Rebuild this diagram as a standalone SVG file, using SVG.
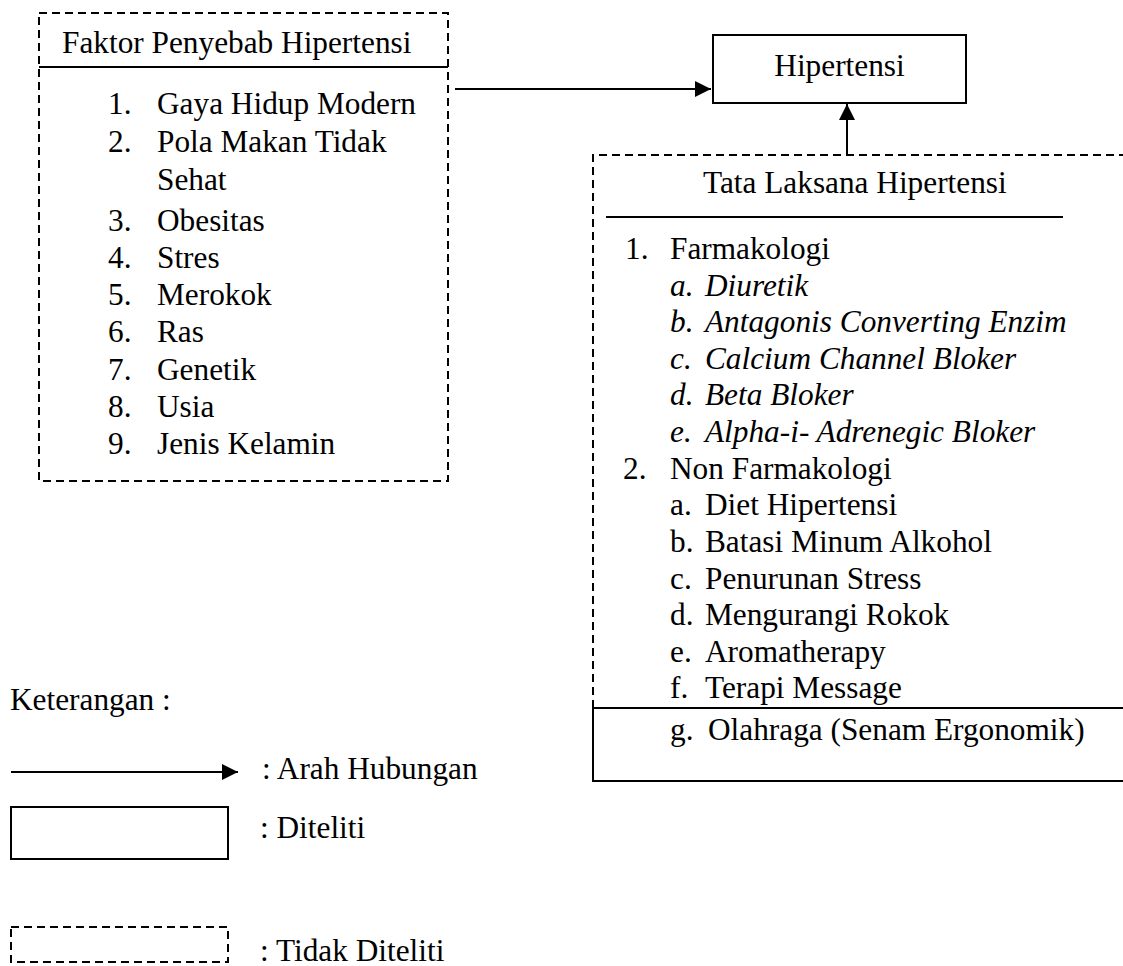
<svg xmlns="http://www.w3.org/2000/svg" width="1123" height="966" viewBox="0 0 1123 966">
<style>
text{font-family:"Liberation Serif","Times New Roman",serif;font-size:31.3px;fill:#000}
.it{font-style:italic}
.dash{fill:none;stroke:#000;stroke-width:2;stroke-dasharray:8 5}
.solid{fill:none;stroke:#000;stroke-width:2}
.ln{stroke:#000;stroke-width:2;fill:none}
</style>
<defs>
<marker id="ah" viewBox="0 0 16 16" refX="16" refY="8" markerWidth="16" markerHeight="16" markerUnits="userSpaceOnUse" orient="auto">
<path d="M0,0 L16,8 L0,16 Z" fill="#000"/>
</marker>
</defs>
<rect width="1123" height="966" fill="#fff"/>

<g id="faktor">
<rect class="dash" x="39" y="13" width="409" height="468"/>
<line class="ln" x1="39" y1="67" x2="448" y2="67"/>
<text x="62" y="53">Faktor Penyebab Hipertensi</text>
<text x="108" y="114">1.</text><text x="157" y="114">Gaya Hidup Modern</text>
<text x="108" y="152">2.</text><text x="157" y="152">Pola Makan Tidak</text>
<text x="157" y="190">Sehat</text>
<text x="108" y="231">3.</text><text x="157" y="231">Obesitas</text>
<text x="108" y="268">4.</text><text x="157" y="268">Stres</text>
<text x="108" y="305">5.</text><text x="157" y="305">Merokok</text>
<text x="108" y="342">6.</text><text x="157" y="342">Ras</text>
<text x="108" y="380">7.</text><text x="157" y="380">Genetik</text>
<text x="108" y="417">8.</text><text x="157" y="417">Usia</text>
<text x="108" y="454">9.</text><text x="157" y="454">Jenis Kelamin</text>
</g>

<g id="hipertensi">
<rect class="solid" x="713" y="35" width="253" height="68"/>
<text x="839.5" y="76" text-anchor="middle">Hipertensi</text>
</g>

<g id="tatalaksana">
<path class="dash" d="M593,708 L593,155 L1123,155"/>
<line class="ln" x1="606" y1="217" x2="1063" y2="217"/>
<text x="703" y="193">Tata Laksana Hipertensi</text>
<text x="625" y="259">1.</text><text x="670" y="259">Farmakologi</text>
<text class="it" x="670" y="296">a.</text><text class="it" x="705" y="296">Diuretik</text>
<text class="it" x="670" y="332">b.</text><text class="it" x="705" y="332">Antagonis Converting Enzim</text>
<text class="it" x="670" y="369">c.</text><text class="it" x="705" y="369">Calcium Channel Bloker</text>
<text class="it" x="670" y="405">d.</text><text class="it" x="705" y="405">Beta Bloker</text>
<text class="it" x="670" y="442">e.</text><text class="it" x="705" y="442">Alpha-i- Adrenegic Bloker</text>
<text x="623" y="479">2.</text><text x="670" y="479">Non Farmakologi</text>
<text x="670" y="515">a.</text><text x="705" y="515">Diet Hipertensi</text>
<text x="670" y="552">b.</text><text x="705" y="552">Batasi Minum Alkohol</text>
<text x="670" y="589">c.</text><text x="705" y="589">Penurunan Stress</text>
<text x="670" y="625">d.</text><text x="705" y="625">Mengurangi Rokok</text>
<text x="670" y="662">e.</text><text x="705" y="662">Aromatherapy</text>
<text x="670" y="698">f.</text><text x="705" y="698">Terapi Message</text>
</g>

<g id="olahraga">
<rect class="solid" x="593" y="708" width="531" height="73"/>
<text x="670" y="740">g.</text><text x="708" y="740">Olahraga (Senam Ergonomik)</text>
</g>

<g id="connectors">
<line class="ln" x1="455" y1="89" x2="711" y2="89" marker-end="url(#ah)"/>
<line class="ln" x1="847" y1="155" x2="847" y2="104" marker-end="url(#ah)"/>
</g>

<g id="legend">
<text x="10" y="710">Keterangan :</text>
<line class="ln" x1="11" y1="772" x2="238" y2="772" marker-end="url(#ah)"/>
<text x="262" y="779">: Arah Hubungan</text>
<rect class="solid" x="11" y="807" width="217" height="52"/>
<text x="260" y="838">: Diteliti</text>
<rect class="dash" x="11" y="927" width="217" height="35"/>
<text x="260" y="961">: Tidak Diteliti</text>
</g>
</svg>
